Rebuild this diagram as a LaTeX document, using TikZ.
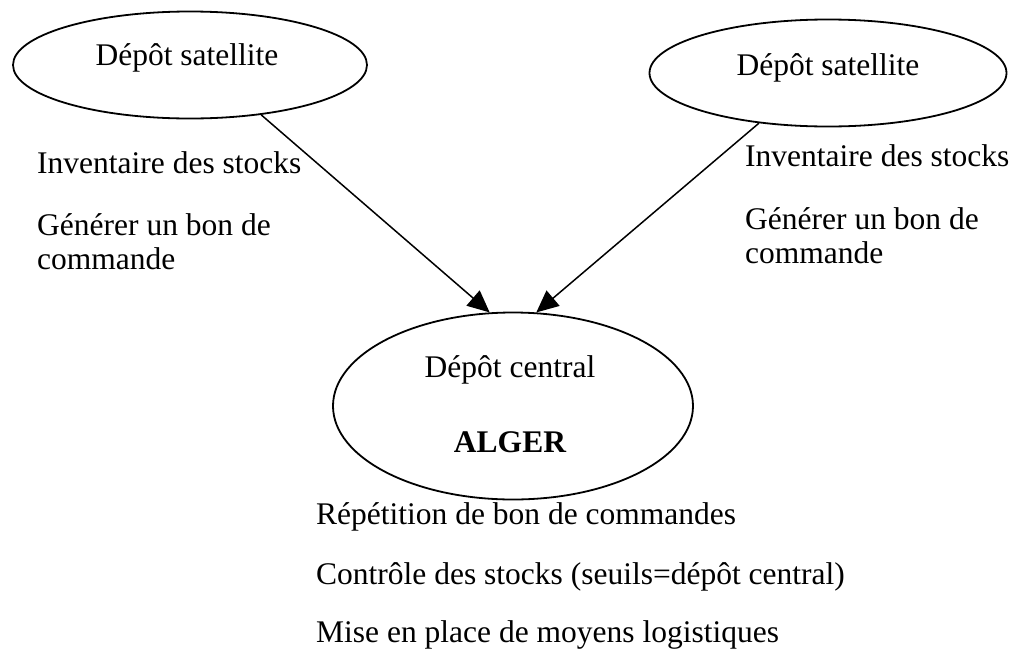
\documentclass[tikz,border=0pt]{standalone}
\usepackage{fontspec}
\setmainfont{Liberation Serif}
\usetikzlibrary{shapes.geometric,arrows.meta}
\begin{document}
\begin{tikzpicture}[x=1pt,y=-1pt,
  depot/.style={draw=black,ellipse,line width=1.8pt,inner sep=0pt},
  txt/.style={inner sep=0pt,font=\fontsize{31.5}{34}\selectfont,align=left},
  flow/.style={line width=1.5pt,-{Triangle[length=22pt,width=20pt]}}]
\useasboundingbox (0,0) rectangle (1013,654);
% ellipses
\node[depot,minimum width=354pt,minimum height=107pt] (sat1) at (190,65) {};
\node[depot,minimum width=357pt,minimum height=107pt] (sat2) at (828,73) {};
\node[depot,minimum width=360pt,minimum height=187pt] (central) at (513,406) {};
% texts inside ellipses
\node[txt,anchor=base] (t1) at (187,65) {Dépôt satellite};
\node[txt,anchor=base] (t2) at (828,75) {Dépôt satellite};
\node[txt,anchor=base] (t3) at (510,377) {Dépôt central};
\node[txt,anchor=base,font=\fontsize{31.5}{34}\selectfont\bfseries] (t4) at (510,452) {ALGER};
% left annotations
\node[txt,anchor=base west] (l1) at (37,173) {Inventaire des stocks};
\node[txt,anchor=base west] (l2) at (37,235) {Générer un bon de};
\node[txt,anchor=base west] (l3) at (37,269) {commande};
% right annotations
\node[txt,anchor=base west] (r1) at (745,166) {Inventaire des stocks};
\node[txt,anchor=base west] (r2) at (745,229) {Générer un bon de};
\node[txt,anchor=base west] (r3) at (745,263) {commande};
% bottom annotations
\node[txt,anchor=base west] (b1) at (316,524) {Répétition de bon de commandes};
\node[txt,anchor=base west] (b2) at (316,584) {Contrôle des stocks (seuils=dépôt central)};
\node[txt,anchor=base west] (b3) at (316,642) {Mise en place de moyens logistiques};
% connectors
\draw[flow] (sat1.-35) -- (central.104);
\draw[flow] (sat2.216) -- (central.76);
\end{tikzpicture}
\end{document}
